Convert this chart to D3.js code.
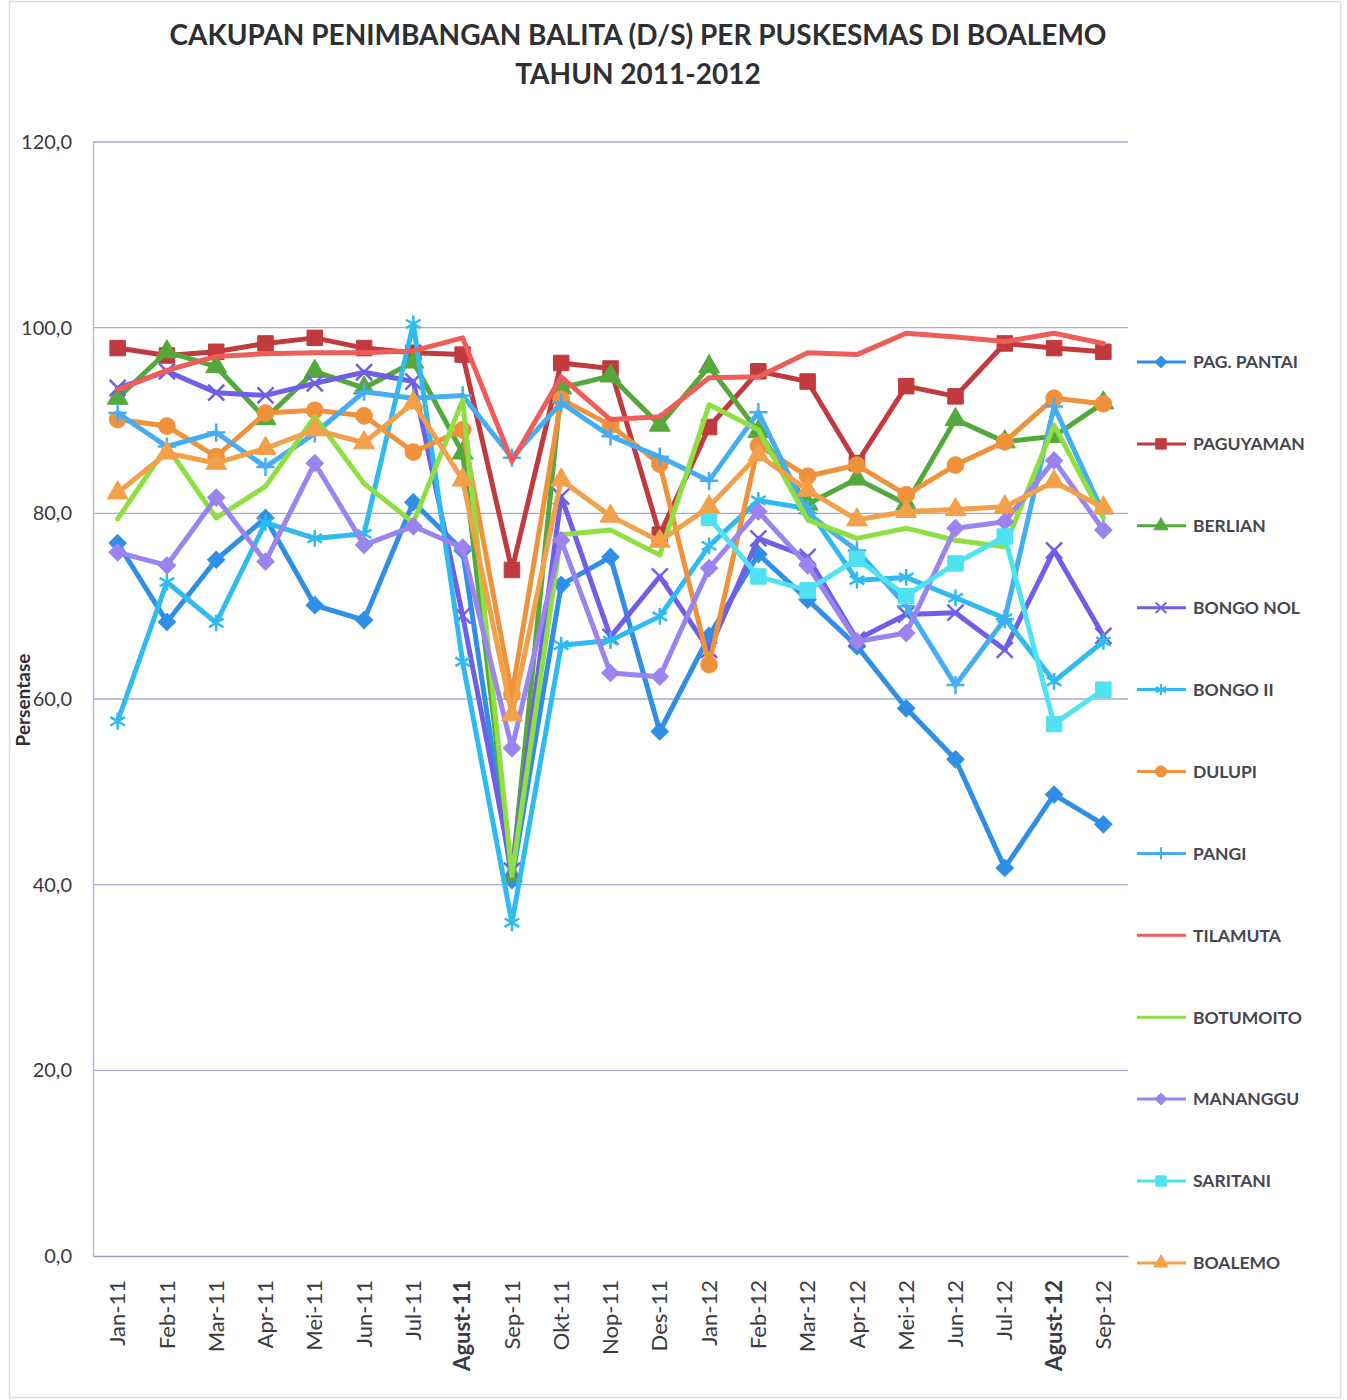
<!DOCTYPE html>
<html>
<head>
<meta charset="utf-8">
<script src="https://cdn.jsdelivr.net/npm/d3@7"></script>
<style>
  html, body { margin: 0; padding: 0; background: #ffffff; }
  svg { display: block; }
</style>
</head>
<body>
<div id="chart"></div>
<script>
const categories = ["Jan-11","Feb-11","Mar-11","Apr-11","Mei-11","Jun-11","Jul-11","Agust-11","Sep-11","Okt-11","Nop-11","Des-11","Jan-12","Feb-12","Mar-12","Apr-12","Mei-12","Jun-12","Jul-12","Agust-12","Sep-12"];
const boldCategories = ["Agust-11","Agust-12"];
const yTicks = [0, 20, 40, 60, 80, 100, 120];

const pagPantai = [76.8, 68.3, 75.0, 79.5, 70.1, 68.5, 81.2, 76.0, 40.5, 72.3, 75.3, 56.5, 66.8, 75.6, 70.7, 65.7, 59.0, 53.5, 41.8, 49.7, 46.5];
const paguyaman = [97.8, 97.0, 97.4, 98.3, 98.9, 97.8, 97.3, 97.1, 73.9, 96.2, 95.6, 77.7, 89.3, 95.3, 94.2, 85.4, 93.7, 92.6, 98.3, 97.8, 97.4];
const berlian = [92.4, 97.4, 95.8, 90.2, 95.3, 93.5, 96.3, 86.5, 41.0, 93.5, 94.8, 89.5, 95.8, 88.8, 81.0, 83.7, 81.0, 90.1, 87.7, 88.3, 91.9];
const bongoNol = [93.5, 95.3, 93.0, 92.7, 94.0, 95.2, 94.2, 69.0, 41.5, 81.8, 66.7, 73.2, 65.3, 77.3, 75.3, 66.4, 69.1, 69.3, 65.3, 76.0, 66.8];
const bongoII = [57.6, 72.6, 68.2, 79.0, 77.3, 77.8, 100.4, 64.0, 35.9, 65.8, 66.3, 68.9, 76.5, 81.4, 80.5, 72.8, 73.1, 70.9, 68.7, 61.9, 66.2];
const dulupi = [90.1, 89.4, 86.1, 90.8, 91.1, 90.5, 86.6, 89.0, 60.5, 92.3, 89.5, 85.3, 63.7, 87.3, 84.0, 85.2, 82.0, 85.2, 87.7, 92.4, 91.8];
const pangi = [90.8, 87.2, 88.7, 85.0, 88.6, 93.1, 92.4, 92.7, 86.0, 91.9, 88.3, 86.1, 83.5, 90.9, 80.0, 76.0, 70.0, 61.5, 68.6, 91.5, 80.0];
const tilamuta = [93.3, 95.4, 96.9, 97.2, 97.3, 97.3, 97.5, 98.9, 85.6, 94.7, 90.1, 90.4, 94.6, 94.7, 97.3, 97.1, 99.4, 99.0, 98.5, 99.4, 98.3];
const botumoito = [79.4, 87.2, 79.5, 82.9, 90.4, 83.2, 79.0, 92.2, 41.0, 77.7, 78.2, 75.5, 91.7, 89.0, 79.3, 77.3, 78.4, 77.1, 76.4, 89.5, 79.5];
const mananggu = [75.8, 74.4, 81.7, 74.8, 85.4, 76.6, 78.6, 76.3, 54.7, 77.1, 62.8, 62.4, 74.1, 80.2, 74.4, 66.2, 67.1, 78.4, 79.1, 85.7, 78.2];
const saritani = [null, null, null, null, null, null, null, null, null, null, null, null, 79.5, 73.2, 71.7, 75.1, 71.1, 74.6, 77.5, 57.3, 61.0];
const boalemo = [82.2, 86.5, 85.4, 87.0, 89.0, 87.6, 91.9, 83.6, 58.3, 83.6, 79.7, 77.0, 80.7, 86.3, 82.5, 79.3, 80.2, 80.4, 80.7, 83.4, 80.6];

const seriesNames = ["PAG. PANTAI","PAGUYAMAN","BERLIAN","BONGO NOL","BONGO II","DULUPI","PANGI","TILAMUTA","BOTUMOITO","MANANGGU","SARITANI","BOALEMO"];
const seriesValues = [pagPantai, paguyaman, berlian, bongoNol, bongoII, dulupi, pangi, tilamuta, botumoito, mananggu, saritani, boalemo];
const seriesColors = ["#2f8fe6","#c13a3e","#54a83c","#6f5fe6","#2fbbef","#f0923c","#45adf2","#ee5d58","#8fdf42","#9b83f0","#4fe2f1","#f3a04a"];
const seriesMarkers = ["diamond","square","triangle","times","asterisk","circle","plus","none","none","diamond","square","triangle"];

const W = 1347, H = 1400;
const margin = {left: 93, right: W - 1128, top: 142, bottom: H - 1256};

const svg = d3.select("#chart").append("svg")
  .attr("width", W).attr("height", H)
  .style("font-family", "Lato, 'Open Sans', sans-serif");

// outer frame
svg.append("rect").attr("x", 9.5).attr("y", 1.5).attr("width", 1331).attr("height", 1396)
  .attr("fill", "none").attr("stroke", "#dcdce6").attr("stroke-width", 1.5);

// title
const title = svg.append("text").attr("text-anchor", "middle")
  .attr("font-weight", "bold").attr("font-size", 28).attr("fill", "#2e2e33");
title.append("tspan").attr("x", 638).attr("y", 45).text("CAKUPAN PENIMBANGAN BALITA (D/S) PER PUSKESMAS DI BOALEMO");
title.append("tspan").attr("x", 638).attr("y", 84).text("TAHUN 2011-2012");

const x = d3.scaleBand().domain(categories).range([margin.left, W - margin.right]).padding(0);
const y = d3.scaleLinear().domain([0, 120]).range([H - margin.bottom, margin.top]);

// gridlines
svg.append("g").selectAll("line").data(yTicks.filter(d => d > 0)).join("line")
  .attr("x1", margin.left).attr("x2", W - margin.right)
  .attr("y1", d => y(d)).attr("y2", d => y(d))
  .attr("stroke", "#a3abd6").attr("stroke-width", 1.4);

// y axis
const yAxis = svg.append("g").attr("transform", `translate(${margin.left},0)`)
  .call(d3.axisLeft(y).tickValues(yTicks).tickSize(0).tickPadding(21)
    .tickFormat(d => d3.format(".1f")(d).replace(".", ",")));
yAxis.select(".domain").attr("stroke", "#b4b8d0").attr("stroke-width", 1.4);
yAxis.selectAll("text").attr("font-size", 20).attr("fill", "#3a3a40").attr("font-family", "Lato, sans-serif");

// x axis
const xAxis = svg.append("g").attr("transform", `translate(0,${H - margin.bottom})`)
  .call(d3.axisBottom(x).tickSize(0).tickPadding(0));
xAxis.select(".domain").attr("stroke", "#9aa0c8").attr("stroke-width", 1.4);
xAxis.selectAll("text")
  .attr("transform", "rotate(-90)")
  .attr("text-anchor", "end")
  .attr("x", -24).attr("y", 0).attr("dy", "0.35em")
  .attr("font-size", 22).attr("fill", "#3a3a40")
  .attr("font-family", "Lato, sans-serif")
  .attr("font-weight", d => boldCategories.includes(d) ? "bold" : "normal");

// y title
svg.append("text").attr("transform", "translate(30,700) rotate(-90)")
  .attr("text-anchor", "middle").attr("font-weight", "bold").attr("font-size", 19)
  .attr("fill", "#2e2e33").text("Persentase");

function markerPath(type, size) {
  const map = {
    diamond: d3.symbolSquare, square: d3.symbolSquare, triangle: d3.symbolTriangle,
    circle: d3.symbolCircle, times: d3.symbolTimes, asterisk: d3.symbolAsterisk, plus: d3.symbolPlus
  };
  return d3.symbol(map[type], size)();
}
const strokeMarkers = ["times", "asterisk", "plus"];
const markerSizes = {diamond: 150, square: 240, triangle: 190, circle: 220, times: 170, asterisk: 200, plus: 110};

const line = d3.line()
  .defined(d => d.v !== null)
  .x(d => x(d.c) + x.bandwidth() / 2)
  .y(d => y(d.v));

const plot = svg.append("g");
seriesNames.forEach((name, i) => {
  const pts = categories.map((c, j) => ({c, v: seriesValues[i][j]}));
  const g = plot.append("g");
  g.append("path").datum(pts).attr("d", line)
    .attr("fill", "none").attr("stroke", seriesColors[i]).attr("stroke-width", 5)
    .attr("stroke-linejoin", "round").attr("stroke-linecap", "round");
  const mk = seriesMarkers[i];
  if (mk !== "none") {
    const isStroke = strokeMarkers.includes(mk);
    const rot = mk === "diamond" ? " rotate(45)" : "";
    g.selectAll("path.m").data(pts.filter(d => d.v !== null)).join("path")
      .attr("class", "m")
      .attr("transform", d => `translate(${x(d.c) + x.bandwidth() / 2},${y(d.v)})${rot}`)
      .attr("d", markerPath(mk, markerSizes[mk]))
      .attr("fill", isStroke ? "none" : seriesColors[i])
      .attr("stroke", seriesColors[i])
      .attr("stroke-width", isStroke ? 2.5 : 1);
  }
});

// legend
const legend = svg.append("g");
seriesNames.forEach((name, i) => {
  const ly = 362 + i * 81.9;
  const g = legend.append("g").attr("transform", `translate(0,${ly})`);
  g.append("line").attr("x1", 1137).attr("x2", 1186).attr("y1", 0).attr("y2", 0)
    .attr("stroke", seriesColors[i]).attr("stroke-width", 3);
  const mk = seriesMarkers[i];
  if (mk !== "none") {
    const isStroke = strokeMarkers.includes(mk);
    const rot = mk === "diamond" ? " rotate(45)" : "";
    g.append("path").attr("transform", `translate(1161,0)${rot}`)
      .attr("d", markerPath(mk, markerSizes[mk] * 0.45))
      .attr("fill", isStroke ? "none" : seriesColors[i])
      .attr("stroke", seriesColors[i]).attr("stroke-width", isStroke ? 2 : 1);
  }
  g.append("text").attr("x", 1193).attr("y", 0).attr("dy", "0.36em")
    .attr("font-size", 17.5).attr("font-weight", "bold").attr("fill", "#45464f")
    .text(name);
});
</script>
</body>
</html>
